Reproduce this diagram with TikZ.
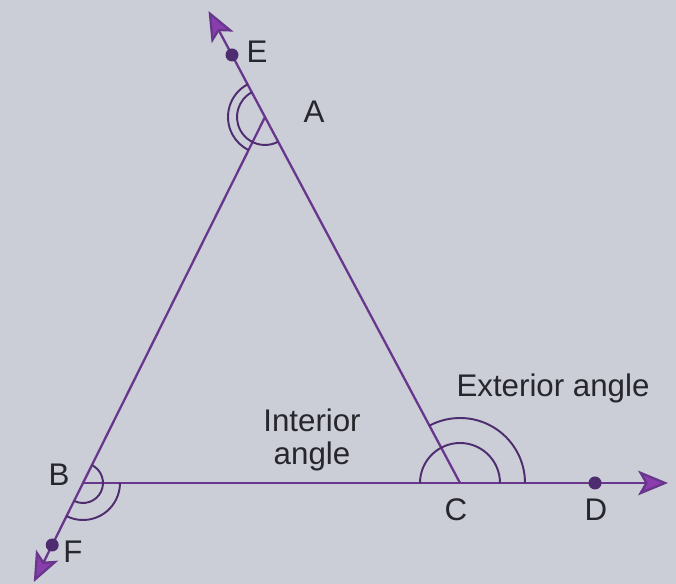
\documentclass[tikz,border=0pt]{standalone}
\usepackage{fontspec}
\setmainfont{Liberation Sans}
\usetikzlibrary{arrows.meta,angles}
\usepackage{xcolor}
\definecolor{paper}{RGB}{203,206,214}
\definecolor{linepurple}{RGB}{104,54,140}
\definecolor{tippurple}{RGB}{138,62,172}
\definecolor{arcpurple}{RGB}{78,44,112}
\definecolor{ink}{RGB}{38,38,44}

\begin{document}
\begin{tikzpicture}[x=0.02cm, y=0.02cm,
  >={Stealth[length=17pt, width=14pt, inset=4pt, fill=tippurple]},
  ray/.style={->, line width=1.3pt, draw=linepurple},
  raydot/.style={circle, fill=arcpurple, inner sep=0pt, minimum size=2.6mm},
  arcmark/.style={draw=arcpurple, line width=1.1pt},
  lbl/.style={text=ink, font=\fontsize{17.8}{18.7}\selectfont, inner sep=0pt}
]
\fill[paper] (0,0) rectangle (676,584);
\useasboundingbox (0,0) rectangle (676,584);
% triangle corners
\coordinate (A) at (265,467);
\coordinate (B) at (83,101);
\coordinate (C) at (460,101);
% free ends of the rays
\coordinate (Etip) at (208.5,573);
\coordinate (Ftip) at (33.8,2);
\coordinate (Dtip) at (668,101);
\draw[ray] (C) -- (Etip);
\draw[ray] (A) -- (Ftip);
\draw[ray] (B) -- (Dtip);
\node[raydot] (E) at (232,529) {};
\node[raydot] (F) at (52.2,39) {};
\node[raydot] (D) at (595,101) {};
% angle marks
\pic[arcmark, angle radius=0.56cm] {angle=E--A--C};
\pic[arcmark, angle radius=0.74cm] {angle=E--A--B};
\pic[arcmark, angle radius=0.4cm] {angle=F--B--A};
\pic[arcmark, angle radius=0.74cm] {angle=F--B--C};
\pic[arcmark, angle radius=0.8cm] {angle=D--C--B};
\pic[arcmark, angle radius=1.3cm] {angle=D--C--A};
% labels
\node[lbl] (lE) at (257,532) {E};
\node[lbl] (lA) at (314,472) {A};
\node[lbl] (lB) at (59,109) {B};
\node[lbl] (lC) at (456,74) {C};
\node[lbl] (lD) at (596,74) {D};
\node[lbl] (lF) at (73,32) {F};
\node[lbl, anchor=base] (ext) at (553,187) {Exterior angle};
\node[lbl, align=center] (int) at (312,144) {Interior\\angle};
\end{tikzpicture}
\end{document}
